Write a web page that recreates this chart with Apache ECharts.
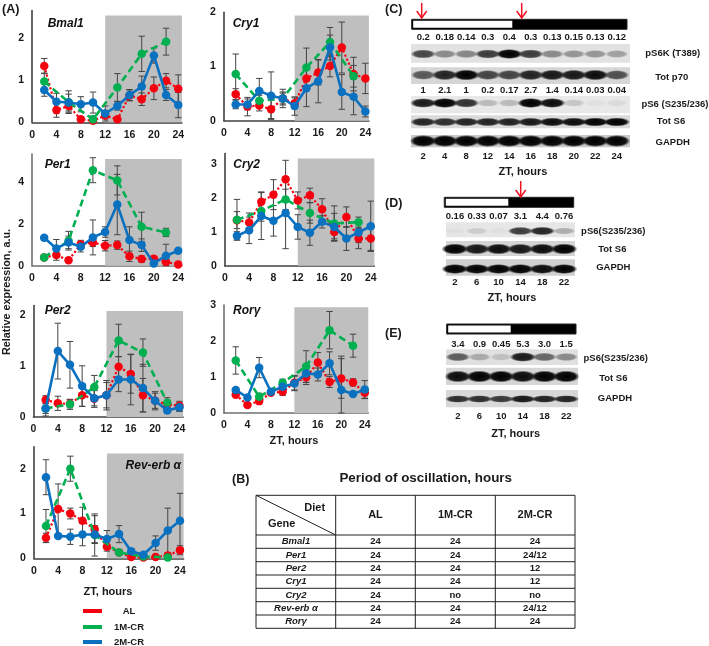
<!DOCTYPE html>
<html><head><meta charset="utf-8">
<style>html,body{margin:0;padding:0;background:#fff}#c{width:709px;height:646px}</style>
<script src="https://cdn.jsdelivr.net/npm/echarts@6/dist/echarts.min.js"></script>
</head><body><div id="c"></div>
<script>
const FONT='"Liberation Sans",Arial,sans-serif';
const ztHours=[2,4,6,8,10,12,14,16,18,20,22,24];
const ztGreen=[2,6,10,14,18,22];
const seriesNames=['AL','1M-CR','2M-CR'];
const RED='#f5000f',GREEN='#00b050',BLUE='#0a70c0';

const bmal1AL=[1.34,.29,.39,.07,.04,.16,.07,.64,.55,.81,.99,.80];
const bmal11M=[.97,.48,.07,.83,1.63,1.92];
const bmal12M=[.77,.49,.47,.43,.47,.21,.39,.65,.85,1.59,.65,.41];
const bmal1ALe=[.18,.17,.15,.06,.03,.08,.05,.13,.15,.27,.17,.33];
const bmal11Me=[.2,.27,.08,.33,.42,.32];
const bmal12Me=[.15,.2,.2,.18,.25,.18,.1,.13,.25,.18,.13,.3];

const per1AL=[.4,.51,.26,1.02,1.12,.96,.99,.45,.32,.34,.18,.06];
const per11M=[.4,1.2,4.59,4.1,1.87,1.6];
const per12M=[1.34,.83,1.12,.91,1.36,1.62,2.94,1.23,.99,.11,.48,.72];
const per1ALe=[.1,.25,.1,.2,.2,.25,.2,.25,.15,.1,.1,.05];
const per11Me=[.1,.45,.6,.7,.7,.2];
const per12Me=[.1,.43,.3,.25,.84,.25,1.45,.64,.3,.1,.55,.1];

const cry1AL=[.49,.26,.28,.21,.41,.32,.78,.89,1.01,1.35,.86,.78];
const cry11M=[.86,.37,.41,.98,1.45,.82];
const cry12M=[.3,.3,.55,.46,.41,.27,.6,.73,1.35,.53,.44,.17];
const cry1ALe=[.1,.17,.1,.17,.1,.1,.2,.23,.2,.47,.31,.28];
const cry11Me=[.37,.1,.12,.36,.27,.2];
const cry12Me=[.08,.1,.23,.44,.17,.17,.34,.4,.23,.32,.33,.1];

const cry2AL=[1.34,1.27,1.88,2.09,2.54,1.92,2.07,1.66,.99,1.43,.8,.8];
const cry21M=[1.35,1.61,1.95,1.55,1.24,1.28];
const cry22M=[.88,1.04,1.46,1.32,1.55,1.14,.97,1.29,1.14,.8,.98,1.16];
const cry2ALe=[.25,.28,.29,.44,.56,.25,.21,.31,.2,.3,.3,.35];
const cry21Me=[.6,.3,.3,.3,.52,.15];
const cry22Me=[.12,.39,.69,.45,1.05,.36,.37,.18,.4,.35,.3,.74];

const per2AL=[.34,.27,.26,.43,.36,.43,.99,.85,.43,.32,.25,.22];
const per21M=[.17,.25,.59,1.51,1.27,.28];
const per22M=[.17,1.3,1.03,.61,.37,.43,.74,.74,.57,.32,.13,.19];
const per2ALe=[.08,.14,.08,.22,.17,.25,.2,.38,.33,.15,.08,.09];
const per21Me=[.15,.1,.23,.32,.27,.1];
const per22Me=[.1,.55,.46,.4,.15,.29,.24,.5,.47,.18,.05,.08];

const revAL=[.46,1.1,1.0,.84,.65,.26,.13,.03,.02,.03,.06,.18];
const rev1M=[.72,2.0,.52,.13,.04,.02];
const rev2M=[1.81,.5,.48,.53,.53,.43,.54,.16,.08,.34,.62,.84];
const revALe=[.1,.56,.12,.3,.3,.1,.05,.03,.03,.05,.05,.1];
const rev1Me=[.37,.28,.47,.05,.03,.03];
const rev2Me=[.39,.05,.17,.25,.2,.19,.19,.05,.05,.16,.5,.61];

const roryAL=[.51,.22,.33,.56,.59,.84,.99,1.4,.86,.96,.85,.56];
const rory1M=[1.46,.45,.84,1.29,2.3,1.87];
const rory2M=[.64,.43,1.26,.59,.73,.82,1.1,1.07,1.38,.64,.53,.65];
const roryALe=[.05,.05,.05,.05,.1,.2,.2,.28,.15,.55,.1,.15];
const rory1Me=[.38,.1,.1,.44,.52,.32];
const rory2Me=[.05,.05,.28,.05,.1,.2,.25,.18,.32,.94,.05,.25];

const panels=[
 {gene:'Bmal1',x0:32.1,xu:6.09,y0:122.3,yu:42,ymax:2.66,shadeTop:2.54,tx:65.7,ty:23.3,d:[bmal1AL,bmal11M,bmal12M],e:[bmal1ALe,bmal11Me,bmal12Me],yi:1,ac:'#404040'},
 {gene:'Per1',x0:32,xu:6.09,y0:265.7,yu:20.8,ymax:5.37,shadeTop:5.13,tx:57.7,ty:165,d:[per1AL,per11M,per12M],e:[per1ALe,per11Me,per12Me],yi:2,ac:'#707070'},
 {gene:'Cry1',x0:223.9,xu:5.895,y0:120.7,yu:54.2,ymax:2,shadeTop:1.94,tx:246,ty:23.3,d:[cry1AL,cry11M,cry12M],e:[cry1ALe,cry11Me,cry12Me],yi:1,ac:'#404040'},
 {gene:'Cry2',x0:224.8,xu:6.08,y0:265.7,yu:34,ymax:3.3,shadeTop:3.15,tx:246.7,ty:165,d:[cry2AL,cry21M,cry22M],e:[cry2ALe,cry21Me,cry22Me],yi:1,ac:'#404040'},
 {gene:'Per2',x0:33.5,xu:6.08,y0:417,yu:50.7,ymax:2.2,shadeTop:2.09,tx:57.7,ty:310.7,d:[per2AL,per21M,per22M],e:[per2ALe,per21Me,per22Me],yi:1,ac:'#404040'},
 {gene:'Rev-erb α',x0:33.8,xu:6.09,y0:558.3,yu:44.8,ymax:2.49,shadeTop:2.34,tx:153.3,ty:465.7,d:[revAL,rev1M,rev2M],e:[revALe,rev1Me,rev2Me],yi:1,ac:'#404040'},
 {gene:'Rorγ',x0:224,xu:5.865,y0:413,yu:36,ymax:3,shadeTop:2.94,tx:246.7,ty:310.7,d:[roryAL,rory1M,rory2M],e:[roryALe,rory1Me,rory2Me],yi:1,ac:'#707070'}
];

const cLanes=['2','4','8','12','14','16','18','20','22','24'];
const cTop=['0.2','0.18','0.14','0.3','0.4','0.3','0.13','0.15','0.13','0.12'];
const cMid=['1','2.1','1','0.2','0.17','2.7','1.4','0.14','0.03','0.04'];
const cPs6k=[.7,.4,.42,.75,1,.75,.4,.35,.35,.3];
const cP70=[.6,.85,1,.7,.7,.85,.9,.9,.95,.65];
const cPs6=[.9,1,.8,.2,.2,1,.95,.15,.04,.06];
const cS6=[.85,.8,.85,.85,.85,.9,.95,.95,1,1];
const cGapdh=[1,1,1,1,1,1,1,1,1,1];
const dLanes=['2','6','10','14','18','22'];
const dTop=['0.16','0.33','0.07','3.1','4.4','0.76'];
const dPs6=[.03,.12,.03,.75,.85,.25];
const dS6=[1,.9,.95,.9,.95,1];
const dGapdh=[1,1,1,1,.95,1];
const eTop=['3.4','0.9','0.45','5.3','3.0','1.5'];
const ePs6=[.6,.25,.15,.9,.55,.4];
const eS6=[.95,1,1,.95,1,1];
const eGapdh=[.8,.8,.75,.9,.85,.85];

const blots=[
 {left:412.5,width:215,top:44,bottom:147.3,labelMargin:4,lanes:cLanes,stripL:411,stripR:630,bw:27,
  texts:[{y:37.7,t:cTop},{y:90.7,t:cMid}],
  strips:[{t:44,b:62.7,c:54,h:10,v:cPs6k,bg:'#e2e2e2',name:'pS6K (T389)',lx:672.7,ly:53.3},
          {t:67.3,b:84,c:75,h:11,v:cP70,bg:'#d6d6d6',name:'Tot p70',lx:671.7,ly:77.3},
          {t:96,b:113.3,c:103,h:10,v:cPs6,bg:'#e8e8e8',name:'pS6 (S235/236)',lx:675,ly:104.3},
          {t:115.3,b:128.3,c:122,h:9,v:cS6,bg:'#dadada',name:'Tot S6',lx:671,ly:121.7},
          {t:135,b:147.3,c:141,h:12,v:cGapdh,bg:'#c8c8c8',name:'GAPDH',lx:672.7,ly:142}],
  bar:[411.7,627,512.3,19.3,10],zt:[523,171.7]},
 {left:444,width:131,top:222.3,bottom:275.7,labelMargin:2,lanes:dLanes,stripL:446,stripR:575,bw:27,
  texts:[{y:216,t:dTop}],
  strips:[{t:222.3,b:237.3,c:231,h:9,v:dPs6,bg:'#e6e6e6',name:'pS6(S235/236)',lx:613.3,ly:231},
          {t:241,b:256,c:249,h:11,v:dS6,bg:'#d4d4d4',name:'Tot S6',lx:612.3,ly:249},
          {t:259.3,b:275.7,c:269,h:10,v:dGapdh,bg:'#d0d0d0',name:'GAPDH',lx:613.3,ly:267.3}],
  bar:[444.3,573.7,508.3,197.3,10],zt:[512,298.3]},
 {left:447,width:130,top:349.3,bottom:407.3,labelMargin:4,lanes:dLanes,stripL:446,stripR:578,bw:27,
  texts:[{y:344.3,t:eTop}],
  strips:[{t:349.3,b:365,c:357,h:10,v:ePs6,bg:'#e0e0e0',name:'pS6(S235/236)',lx:615.7,ly:358.7},
          {t:367.7,b:385,c:376.5,h:12,v:eS6,bg:'#d6d6d6',name:'Tot S6',lx:613.3,ly:378},
          {t:390,b:407.3,c:399,h:8,v:eGapdh,bg:'#d8d8d8',name:'GAPDH',lx:615,ly:398.3}],
  bar:[446.7,576,510.7,324,10],zt:[515.7,434]}
];

const tableGenes=['Bmal1','Per1','Per2','Cry1','Cry2','Rev-erb α','Rorγ'];
const tableHead=['AL','1M-CR','2M-CR'];
const tableAL=['24','24','24','24','24','24','24'];
const table1M=['24','24','24','24','no','24','24'];
const table2M=['24','24/12','12','12','no','24/12','24'];
const tableX=[256,335.7,415.3,495.3,575];
const tableY=[495.3,535,548.3,561.7,575,588.3,601.7,615,628.3];

const grids=[],xAxes=[],yAxes=[],series=[],graphic=[];
function txt(x,y,text,size,o){graphic.push({type:'text',x,y,z:20,silent:true,rotation:(o&&o.rot)||0,style:{text,font:((o&&o.italic)?'italic ':'')+'bold '+size+'px '+FONT,fill:(o&&o.color)||'#1a1a1a',align:(o&&o.align)||'center',verticalAlign:'middle'}});}

const colors=[RED,GREEN,BLUE];
const lines=[{type:'dotted',width:2.2},{type:[7,4],width:2.6},{type:'solid',width:2.6}];
panels.forEach((p,i)=>{
 const XMAX=24.6;
 grids.push({left:p.x0,top:p.y0-p.ymax*p.yu,width:XMAX*p.xu,height:p.ymax*p.yu});
 xAxes.push({gridIndex:i,type:'value',min:0,max:XMAX,interval:4,splitLine:{show:false},axisTick:{show:false},
  axisLine:{lineStyle:{color:p.ac,width:1.6}},
  axisLabel:{showMaxLabel:false,showMinLabel:true,margin:7,fontFamily:FONT,fontWeight:'bold',fontSize:10.5,color:'#1a1a1a'}});
 yAxes.push({gridIndex:i,type:'value',min:0,max:p.ymax,interval:p.yi,splitLine:{show:false},axisTick:{show:false},
  axisLine:{show:true,lineStyle:{color:p.ac,width:1.6}},
  axisLabel:{showMaxLabel:Number.isInteger(p.ymax),margin:8,fontFamily:FONT,fontWeight:'bold',fontSize:10.5,color:'#1a1a1a'}});
 series.push({type:'line',xAxisIndex:i,yAxisIndex:i,silent:true,data:[],z:1,
  markArea:{silent:true,itemStyle:{color:'#bfbfbf'},data:[[{xAxis:12,yAxis:0},{xAxis:XMAX,yAxis:p.shadeTop}]]}});
 const xsFor=s=>s===1?ztGreen:ztHours;
 [0,1,2].forEach(s=>{
  series.push({type:'custom',xAxisIndex:i,yAxisIndex:i,silent:true,z:3,
   data:p.d[s].map((v,k)=>[xsFor(s)[k],Math.max(0,v-p.e[s][k]),v+p.e[s][k]]),
   encode:{x:0,y:[1,2]},
   renderItem(params,api){
     const a=api.coord([api.value(0),api.value(1)]),b=api.coord([api.value(0),api.value(2)]);
     const st={stroke:'#444',lineWidth:1,fill:null};
     return {type:'group',children:[
       {type:'line',shape:{x1:a[0],y1:a[1],x2:b[0],y2:b[1]},style:st},
       {type:'line',shape:{x1:a[0]-3.2,y1:a[1],x2:a[0]+3.2,y2:a[1]},style:st},
       {type:'line',shape:{x1:b[0]-3.2,y1:b[1],x2:b[0]+3.2,y2:b[1]},style:st}]};
   }});
 });
 [0,1,2].forEach(s=>{
  series.push({type:'line',name:seriesNames[s],xAxisIndex:i,yAxisIndex:i,silent:true,z:4+s,
   data:p.d[s].map((v,k)=>[xsFor(s)[k],v]),symbol:'circle',symbolSize:8.5,showSymbol:true,
   itemStyle:{color:colors[s]},lineStyle:{color:colors[s],type:lines[s].type,width:lines[s].width}});
 });
 txt(p.tx,p.ty,p.gene,12,{italic:true,color:'#111'});
});

blots.forEach(P=>{
 const gi=grids.length,H=P.bottom-P.top;
 grids.push({left:P.left,top:P.top,width:P.width,height:H});
 xAxes.push({gridIndex:gi,type:'category',data:P.lanes,axisLine:{show:false},axisTick:{show:false},
  axisLabel:{margin:P.labelMargin,interval:0,fontFamily:FONT,fontWeight:'bold',fontSize:9.5,color:'#1a1a1a'}});
 yAxes.push({gridIndex:gi,type:'value',min:0,max:H,inverse:true,show:false});
 const items=[];
 P.strips.forEach(st=>st.v.forEach((v,j)=>items.push({j,st,v})));
 series.push({type:'custom',xAxisIndex:gi,yAxisIndex:gi,silent:true,z:2,clip:false,
  data:items.map(it=>[it.j,it.st.c-P.top]),encode:{x:0,y:1},
  renderItem(params,api){
    const it=items[params.dataIndex],c=api.coord([it.j,it.st.c-P.top]),ch=[];
    if(it.j===0){
      const t=api.coord([0,it.st.t-P.top])[1],b=api.coord([0,it.st.b-P.top])[1];
      ch.push({type:'rect',shape:{x:P.stripL,y:t,width:P.stripR-P.stripL,height:b-t},style:{fill:it.st.bg}});
    }
    const a=it.v,w=P.bw*(.8+.2*a),h=it.st.h*(.7+.3*a);
    ch.push({type:'circle',shape:{cx:0,cy:0,r:1},x:c[0],y:c[1],scaleX:w/2,scaleY:h/2,
      style:{fill:{type:'radial',x:.5,y:.5,r:.5,colorStops:[
        {offset:0,color:'rgba(0,0,0,'+a+')'},{offset:.7,color:'rgba(0,0,0,'+(a*.92)+')'},{offset:1,color:'rgba(0,0,0,0)'}]}}});
    return {type:'group',children:ch};
  }});
 P.texts.forEach(r=>{
  series.push({type:'custom',xAxisIndex:gi,yAxisIndex:gi,silent:true,z:3,clip:false,
   data:r.t.map((s,j)=>[j,r.y-P.top]),encode:{x:0,y:1},
   renderItem(params,api){
     const c=api.coord([api.value(0),api.value(1)]);
     return {type:'text',x:c[0],y:c[1],style:{text:r.t[params.dataIndex],font:'bold 9.5px '+FONT,fill:'#1a1a1a',align:'center',verticalAlign:'middle'}};
   }});
 });
 P.strips.forEach(st=>txt(st.lx,st.ly,st.name,9.5));
 const [bl,br,bm,by,bh]=P.bar;
 graphic.push({type:'rect',z:20,silent:true,shape:{x:bl,y:by,width:br-bl,height:bh},style:{fill:'#000',stroke:'#222',lineWidth:1}});
 graphic.push({type:'rect',z:21,silent:true,shape:{x:bl+1.5,y:by+1.5,width:bm-bl-1.5,height:bh-3},style:{fill:'#fff'}});
 txt(P.zt[0],P.zt[1],'ZT, hours',11);
});

[[421.7,3,18],[521.7,3,18],[520.7,181,197]].forEach(([x,y1,y2])=>{
 graphic.push({type:'polyline',z:22,silent:true,shape:{points:[[x,y1],[x,y2]]},style:{stroke:'#f01020',lineWidth:1.5,fill:null}});
 graphic.push({type:'polyline',z:22,silent:true,shape:{points:[[x-5,y2-7],[x,y2],[x+5,y2-7]]},style:{stroke:'#f01020',lineWidth:1.5,fill:null}});
});

tableX.forEach(x=>graphic.push({type:'line',z:20,silent:true,shape:{x1:x,y1:tableY[0],x2:x,y2:tableY[8]},style:{stroke:'#222',lineWidth:1}}));
tableY.forEach(y=>graphic.push({type:'line',z:20,silent:true,shape:{x1:tableX[0],y1:y,x2:tableX[4],y2:y},style:{stroke:'#222',lineWidth:1}}));
graphic.push({type:'line',z:20,silent:true,shape:{x1:tableX[0],y1:tableY[0],x2:tableX[1],y2:tableY[1]},style:{stroke:'#222',lineWidth:1}});
txt(425.7,478,'Period of oscillation, hours',13.4);
txt(314.7,508.3,'Diet',11);txt(281.7,524.3,'Gene',11);
const cx=[375.5,455.3,535];
tableHead.forEach((h,i)=>txt(cx[i],515,h,11));
tableGenes.forEach((g,r)=>{
 const y=(tableY[r+1]+tableY[r+2])/2;
 txt(296,y,g,9.5,{italic:true});
 txt(cx[0],y,tableAL[r],9.5);txt(cx[1],y,table1M[r],9.5);txt(cx[2],y,table2M[r],9.5);
});

txt(7,292,'Relative expression, a.u.',10.8,{rot:Math.PI/2});
txt(108,591.7,'ZT, hours',11);
txt(294,440.7,'ZT, hours',11);
txt(2,10,'(A)',12.5,{align:'left'});
txt(385,10,'(C)',12.5,{align:'left'});
txt(232,480,'(B)',12.5,{align:'left'});
txt(385,204,'(D)',12.5,{align:'left'});
txt(385,334,'(E)',12.5,{align:'left'});

const legendTops=[606,622,637];
const chart=echarts.init(document.getElementById('c'),null,{renderer:'canvas',width:709,height:646});
chart.setOption({
 animation:false,backgroundColor:'#fff',
 grid:grids,xAxis:xAxes,yAxis:yAxes,series,graphic:{elements:graphic},
 legend:seriesNames.map((n,i)=>({data:[n],left:83,top:legendTops[i],icon:'rect',itemWidth:19,itemHeight:4,padding:0,selectedMode:false,
  formatter:'{c|{name}}',textStyle:{fontFamily:FONT,fontWeight:'bold',fontSize:9.5,color:'#1a1a1a',rich:{c:{width:44,align:'center',fontFamily:FONT,fontWeight:'bold',fontSize:9.5,color:'#1a1a1a'}}}}))
});
</script></body></html>
